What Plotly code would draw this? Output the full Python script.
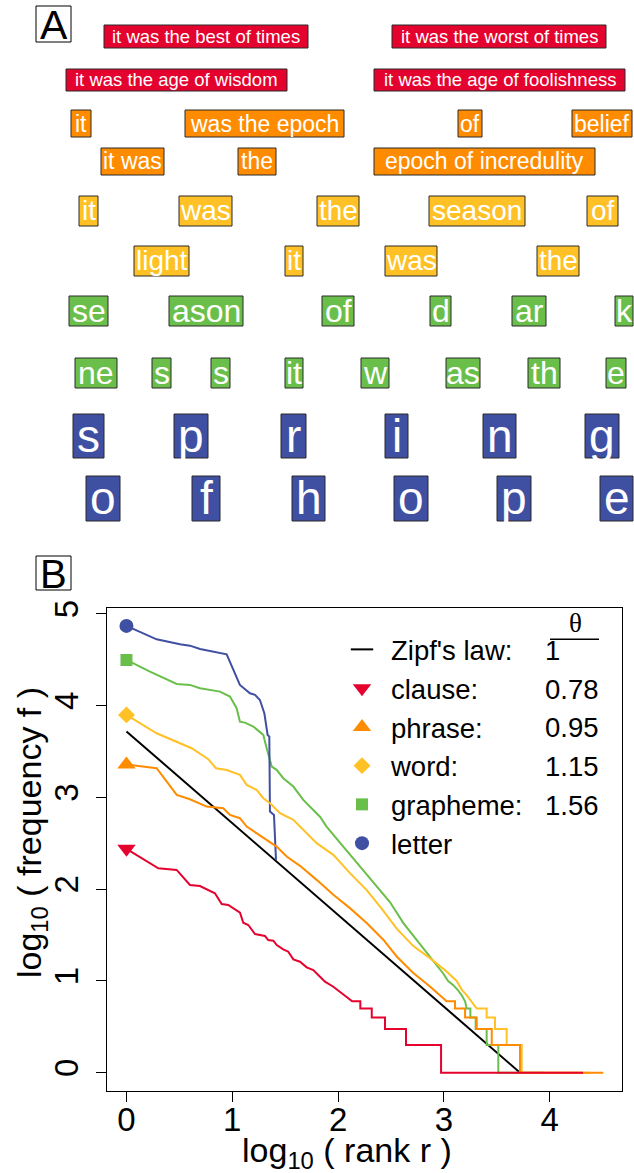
import plotly.graph_objects as go

W, H = 634, 1173
FONT = "Liberation Sans, Arial, Helvetica, sans-serif"

# ---------------- Panel A: units ----------------
clause_units = ["it was the best of times", "it was the worst of times",
                "it was the age of wisdom", "it was the age of foolishness"]
phrase_units = ["it", "was the epoch", "of", "belief", "it was", "the", "epoch of incredulity"]
word_units = ["it", "was", "the", "season", "of", "light", "it", "was", "the"]
grapheme_units = ["se", "ason", "of", "d", "ar", "k", "ne", "s", "s", "it", "w", "as", "th", "e"]
letter_units = ["s", "p", "r", "i", "n", "g", "o", "f", "h", "o", "p", "e"]

# layout of boxes (left, right, top, bottom) in pixels
clause_boxes = [(104, 308, 25, 48), (392, 606, 25, 48), (66, 287, 69, 91), (374, 625, 69, 91)]
phrase_boxes = [(71, 91, 110, 137), (185, 344, 110, 137), (458, 482, 110, 137), (572, 632, 110, 137),
                (101, 164, 148, 175), (238, 276, 148, 175), (374, 595, 148, 175)]
word_boxes = [(79, 98, 196, 226), (179, 232, 196, 226), (317, 359, 196, 226), (429, 525, 196, 226),
              (587, 618, 196, 226), (134, 189, 246, 276), (285, 303, 246, 276), (385, 437, 246, 276),
              (537, 579, 246, 276)]
grapheme_boxes = [(69, 108, 296, 326), (169, 243, 296, 326), (322, 354, 296, 326), (430, 451, 296, 326),
                  (512, 546, 296, 326), (615, 633, 296, 326), (75, 117, 358, 388), (152, 171, 358, 388),
                  (211, 230, 358, 388), (285, 303, 358, 388), (361, 389, 358, 388), (446, 480, 358, 388),
                  (528, 560, 358, 388), (606, 626, 358, 388)]
letter_boxes = [(73, 104, 414, 458), (174, 208, 414, 458), (281, 306, 414, 458), (385, 408, 414, 458),
                (483, 516, 414, 458), (585, 619, 414, 458), (86, 120, 476, 521), (192, 220, 476, 521),
                (292, 325, 476, 521), (394, 428, 476, 521), (497, 531, 476, 521), (600, 633, 476, 521)]

RED, ORANGE, YELLOW, GREEN, BLUE = "#E4032E", "#FF8C00", "#FFC125", "#6ABF4B", "#3F4FA2"

# ---------------- Panel B: rank-frequency data (log10 rank, log10 freq) ----------------
zipf_x = [0, 3.72]
zipf_y = [3.72, 0]

letter_x = [0, 0.285, 0.506, 0.600, 0.695, 0.947, 1.072, 1.167, 1.215, 1.261, 1.303, 1.334, 1.350, 1.356, 1.394, 1.413]
letter_y = [4.87, 4.724, 4.67, 4.655, 4.619, 4.561, 4.227, 4.136, 4.118, 4.063, 3.918, 3.682, 3.663, 2.847, 2.81, 2.32]

grapheme_x = [0, 0.222, 0.475, 0.600, 0.695, 0.884, 0.978, 1.041, 1.072, 1.120, 1.199, 1.293, 1.325, 1.373,
              1.419, 1.482, 1.577, 1.671, 1.829, 1.891, 2.049, 2.207, 2.365, 2.490, 2.617, 2.743, 2.868,
              2.995, 3.04, 3.089, 3.13, 3.168, 3.20, 3.215, 3.25, 3.25, 3.30, 3.30, 3.404, 3.404, 3.514,
              3.514, 3.95]
grapheme_y = [4.499, 4.372, 4.237, 4.227, 4.19, 4.154, 4.10, 3.973, 3.827, 3.816, 3.773, 3.682, 3.537, 3.337,
              3.301, 3.21, 3.119, 2.974, 2.79, 2.683, 2.465, 2.247, 2.03, 1.86, 1.631, 1.449, 1.267,
              1.079, 1.0, 0.954, 0.903, 0.845, 0.778, 0.699, 0.699, 0.602, 0.602, 0.477, 0.477, 0.301, 0.301,
              0, 0]

word_x = [0, 0.285, 0.616, 0.773, 0.846, 0.947, 1.072, 1.136, 1.230, 1.293, 1.357, 1.451, 1.577, 1.671,
          1.797, 1.955, 2.112, 2.270, 2.41, 2.554, 2.711, 2.868, 3.026, 3.12, 3.17, 3.215, 3.26, 3.31,
          3.404, 3.404, 3.483, 3.483, 3.593, 3.593, 3.735, 3.735, 4.38]
word_y = [3.90, 3.70, 3.537, 3.417, 3.319, 3.30, 3.246, 3.137, 3.083, 2.992, 2.938, 2.829, 2.756, 2.647,
          2.502, 2.375, 2.175, 1.99, 1.79, 1.57, 1.38, 1.249, 1.104, 1.0, 0.903, 0.845, 0.778, 0.699,
          0.699, 0.602, 0.602, 0.477, 0.477, 0.301, 0.301, 0, 0]

phrase_x = [0, 0.285, 0.475, 0.600, 0.758, 0.915, 0.978, 1.072, 1.136, 1.230, 1.325, 1.419, 1.514, 1.640,
            1.797, 1.955, 2.112, 2.270, 2.427, 2.554, 2.711, 2.868, 3.026, 3.105, 3.105, 3.20, 3.20, 3.31,
            3.31, 3.452, 3.452, 3.719, 3.719, 4.506]
phrase_y = [3.36, 3.319, 3.028, 2.981, 2.901, 2.883, 2.81, 2.774, 2.683, 2.611, 2.538, 2.465, 2.356, 2.255,
            2.102, 1.939, 1.794, 1.631, 1.45, 1.267, 1.086, 0.94, 0.778, 0.778, 0.699, 0.699, 0.602, 0.602,
            0.477, 0.477, 0.301, 0.301, 0, 0]

clause_x = [0, 0.301, 0.474, 0.600, 0.695, 0.836, 0.900, 0.962, 1.073, 1.104, 1.151, 1.215, 1.309, 1.340,
            1.388, 1.420, 1.482, 1.529, 1.577, 1.640, 1.703, 1.766, 1.829, 1.876, 1.955, 2.018, 2.06, 2.133,
            2.21, 2.21, 2.318, 2.318, 2.443, 2.443, 2.642, 2.642, 2.973, 2.973, 4.315]
clause_y = [2.44, 2.228, 2.21, 2.046, 2.035, 1.956, 1.839, 1.828, 1.744, 1.635, 1.61, 1.512, 1.49, 1.446,
            1.439, 1.392, 1.345, 1.319, 1.236, 1.21, 1.149, 1.119, 1.046, 0.992, 0.937, 0.883, 0.845, 0.778,
            0.778, 0.699, 0.699, 0.602, 0.602, 0.477, 0.477, 0.301, 0.301, 0, 0]

legend_names = ["Zipf's law:", "clause:", "phrase:", "word:", "grapheme:", "letter"]
theta_values = ["1", "0.78", "0.95", "1.15", "1.56"]


def PX(x):
    return x / W


def PY(y):
    return 1 - y / H


fig = go.Figure()

# lines
fig.add_trace(go.Scatter(x=zipf_x, y=zipf_y, mode="lines", line=dict(color="black", width=2),
                         showlegend=False, hoverinfo="skip"))
line_series = [(grapheme_x, grapheme_y, GREEN), (letter_x, letter_y, BLUE), (word_x, word_y, YELLOW),
               (phrase_x, phrase_y, ORANGE), (clause_x, clause_y, RED)]
for xs, ys, c in line_series:
    fig.add_trace(go.Scatter(x=xs, y=ys, mode="lines", line=dict(color=c, width=2),
                             showlegend=False, hoverinfo="skip"))

# legend entry for Zipf's law
fig.add_trace(go.Scatter(x=[None], y=[None], mode="markers", name=legend_names[0],
                         marker=dict(symbol="line-ew", size=20, color="black",
                                     line=dict(width=2, color="black"))))

# start markers (also legend entries)
marker_series = [(clause_x, clause_y, RED, "triangle-down", 16, legend_names[1]),
                 (phrase_x, phrase_y, ORANGE, "triangle-up", 16, legend_names[2]),
                 (word_x, word_y, YELLOW, "diamond", 13, legend_names[3]),
                 (grapheme_x, grapheme_y, GREEN, "square", 12, legend_names[4]),
                 (letter_x, letter_y, BLUE, "circle", 14, legend_names[5])]
for xs, ys, c, sym, sz, nm in marker_series:
    fig.add_trace(go.Scatter(x=xs[:1], y=ys[:1], mode="markers", name=nm,
                             marker=dict(symbol=sym, size=sz, color=c, line=dict(width=0))))

shapes = []
annotations = []

# Panel A boxes
levels = [(clause_units, clause_boxes, RED, 18.5),
          (phrase_units, phrase_boxes, ORANGE, 23),
          (word_units, word_boxes, YELLOW, 28),
          (grapheme_units, grapheme_boxes, GREEN, 32),
          (letter_units, letter_boxes, BLUE, 46)]
for units, boxes, col, fs in levels:
    for u, (l, r, t, b) in zip(units, boxes):
        shapes.append(dict(type="rect", xref="paper", yref="paper", x0=PX(l), x1=PX(r), y0=PY(b), y1=PY(t),
                           fillcolor=col, line=dict(color="#2b2b2b", width=1), layer="above"))
        annotations.append(dict(xref="paper", yref="paper", x=PX((l + r) / 2), y=PY((t + b) / 2),
                                xanchor="center", yanchor="middle", text=u, showarrow=False,
                                font=dict(family=FONT, size=fs, color="white")))

# panel labels
for lab, (l, r, t, b), fs in [("A", (36, 71, 6, 42), 41), ("B", (36, 71, 556, 590), 40)]:
    shapes.append(dict(type="rect", xref="paper", yref="paper", x0=PX(l), x1=PX(r), y0=PY(b), y1=PY(t),
                       fillcolor="white", line=dict(color="black", width=1)))
    annotations.append(dict(xref="paper", yref="paper", x=PX((l + r) / 2), y=PY((t + b) / 2 + 1),
                            xanchor="center", yanchor="middle", text=lab, showarrow=False,
                            height=34, borderpad=0,
                            font=dict(family=FONT, size=fs, color="black")))

# theta header + values
LEG_FS = 27.5
row0 = 660.0
rowstep = 1.3 * LEG_FS + 3
annotations.append(dict(xref="paper", yref="paper", x=PX(575.5), y=PY(623.5), xanchor="center",
                        yanchor="middle", text="θ", showarrow=False,
                        font=dict(family="Liberation Serif, Times New Roman, serif", size=27, color="black")))
shapes.append(dict(type="line", xref="paper", yref="paper", x0=PX(550), x1=PX(599), y0=PY(639.3), y1=PY(639.3),
                   line=dict(color="black", width=1.5)))
for i, v in enumerate(theta_values):
    base = row0 + i * rowstep
    annotations.append(dict(xref="paper", yref="paper", x=PX(543), y=PY(base - 0.3465 * LEG_FS),
                            xanchor="left", yanchor="middle", text=v, showarrow=False,
                            font=dict(family=FONT, size=LEG_FS, color="black")))

# axis titles
annotations.append(dict(xref="paper", yref="paper", x=PX(347), y=PY(1152), xanchor="center", yanchor="middle",
                        text="log<sub>10</sub> ( rank r )", showarrow=False,
                        font=dict(family=FONT, size=34, color="black")))
annotations.append(dict(xref="paper", yref="paper", x=PX(31), y=PY(833), xanchor="center", yanchor="middle",
                        text="log<sub>10</sub> ( frequency f )", showarrow=False, textangle=-90,
                        font=dict(family=FONT, size=34, color="black")))

axis_common = dict(ticks="outside", ticklen=10, tickwidth=1, tickcolor="black", showline=True,
                   linecolor="black", linewidth=1, mirror=True, showgrid=False, zeroline=False,
                   tickfont=dict(family=FONT, size=33, color="black"))

fig.update_layout(
    width=W, height=H, autosize=False,
    margin=dict(l=0, r=0, t=0, b=0, autoexpand=False),
    paper_bgcolor="white", plot_bgcolor="white",
    xaxis=dict(domain=[PX(107), PX(622)], range=[-0.184, 4.683], tickvals=[0, 1, 2, 3, 4],
               ticklabelstandoff=-10, **axis_common),
    yaxis=dict(domain=[PY(1090.7), PY(608.3)], range=[-0.196, 5.062], tickvals=[0, 1, 2, 3, 4, 5],
               tickangle=-90, ticklabelstandoff=5, **axis_common),
    legend=dict(x=PX(333), y=PY(625), xanchor="left", yanchor="top", bgcolor="rgba(0,0,0,0)",
                borderwidth=0, font=dict(family=FONT, size=LEG_FS, color="black"), itemwidth=48,
                tracegroupgap=0, traceorder="normal"),
    shapes=shapes,
    annotations=annotations,
    showlegend=True,
)

fig.write_html("out.html")
